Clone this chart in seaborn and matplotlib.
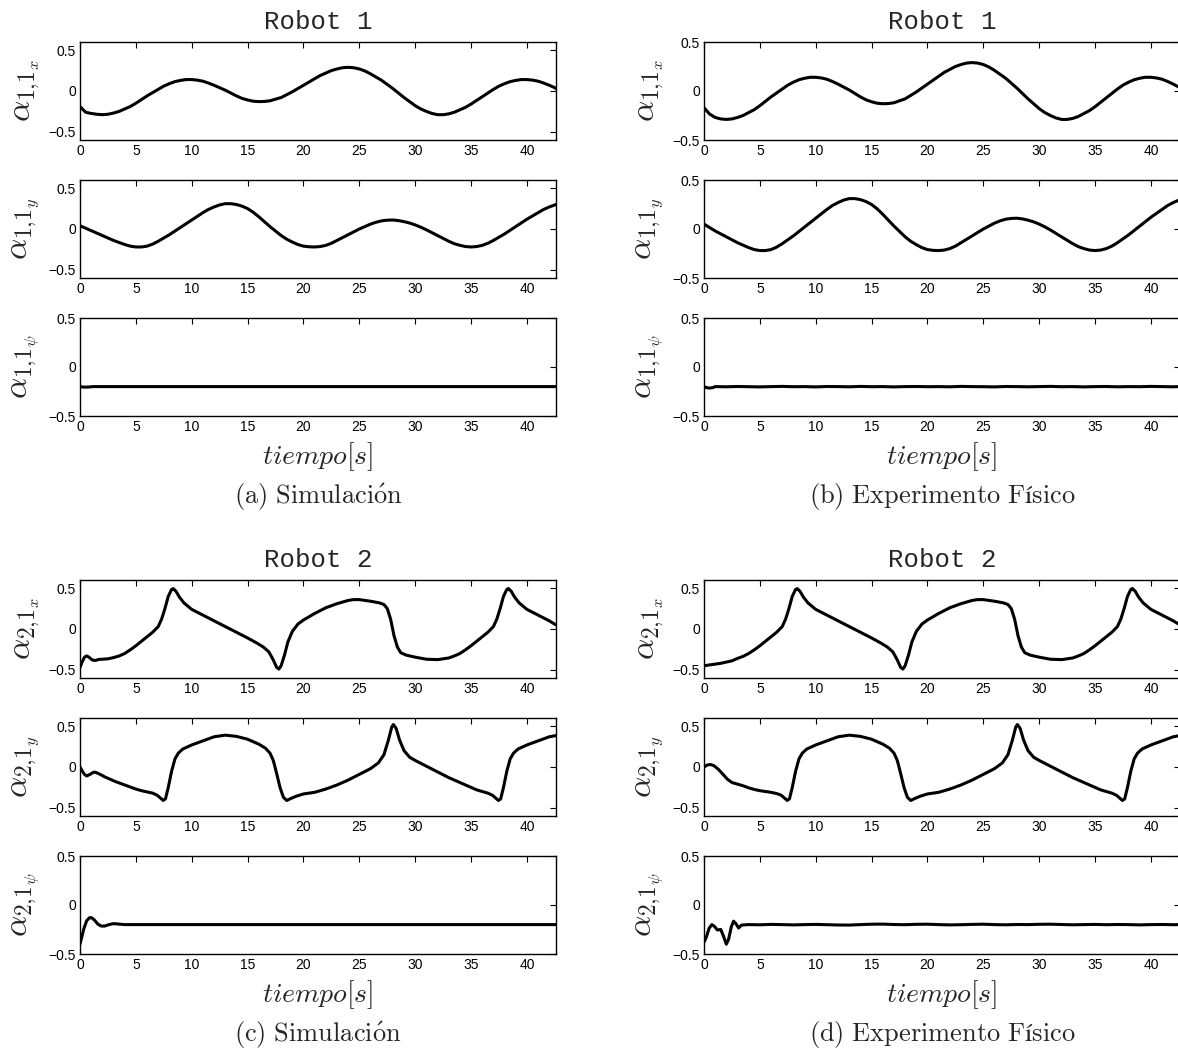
import matplotlib
matplotlib.use("Agg")
import matplotlib.pyplot as plt
import numpy as np
import pandas as pd
import seaborn as sns

# ---------------------------------------------------------------- data
# Robot 1 is sampled every half second up to 42.5 s, plus the final 42.6 s sample
T_R1 = np.append(np.arange(0, 42.5 + 1e-9, 0.5), 42.6)

# Robot 1, x component
R1X_SIM = [-0.19, -0.26, -0.275, -0.285, -0.29, -0.285, -0.27, -0.25, -0.22, -0.19, -0.15,
           -0.105, -0.06, -0.02, 0.02, 0.06, 0.09, 0.115, 0.13, 0.14, 0.14, 0.133, 0.12, 0.097,
           0.07, 0.04, 0.01, -0.025, -0.06, -0.09, -0.11, -0.125, -0.13, -0.128, -0.12, -0.10,
           -0.08, -0.045, -0.01, 0.03, 0.07, 0.11, 0.15, 0.19, 0.22, 0.25, 0.27, 0.285, 0.29,
           0.285, 0.27, 0.245, 0.21, 0.17, 0.13, 0.08, 0.03, -0.025, -0.08, -0.13, -0.18, -0.22,
           -0.25, -0.275, -0.29, -0.29, -0.28, -0.26, -0.23, -0.20, -0.16, -0.115, -0.07, -0.025,
           0.02, 0.06, 0.09, 0.115, 0.13, 0.14, 0.14, 0.133, 0.12, 0.097, 0.07, 0.04, 0.03]
R1X_EXP = [-0.17, -0.235, -0.27, -0.285, -0.29, -0.285, -0.27, -0.25, -0.22, -0.19, -0.15,
           -0.105, -0.06, -0.02, 0.02, 0.06, 0.09, 0.115, 0.13, 0.14, 0.14, 0.133, 0.12, 0.097,
           0.07, 0.04, 0.01, -0.025, -0.06, -0.09, -0.11, -0.125, -0.13, -0.128, -0.12, -0.10,
           -0.08, -0.045, -0.01, 0.03, 0.07, 0.11, 0.15, 0.19, 0.22, 0.25, 0.27, 0.285, 0.29,
           0.285, 0.27, 0.245, 0.21, 0.17, 0.13, 0.08, 0.03, -0.025, -0.08, -0.13, -0.18, -0.22,
           -0.25, -0.275, -0.29, -0.29, -0.28, -0.26, -0.23, -0.20, -0.16, -0.115, -0.07, -0.025,
           0.02, 0.06, 0.09, 0.115, 0.13, 0.14, 0.14, 0.133, 0.12, 0.097, 0.07, 0.04, 0.03]

# Robot 1, y component
R1Y_SIM = [0.04, 0.01, -0.02, -0.05, -0.08, -0.11, -0.14, -0.165, -0.19, -0.21, -0.22, -0.22,
           -0.21, -0.185, -0.15, -0.11, -0.07, -0.025, 0.02, 0.065, 0.11, 0.155, 0.20, 0.24,
           0.27, 0.295, 0.31, 0.31, 0.30, 0.28, 0.25, 0.205, 0.15, 0.09, 0.03, -0.025, -0.08,
           -0.125, -0.16, -0.19, -0.21, -0.218, -0.22, -0.215, -0.20, -0.175, -0.14, -0.105,
           -0.07, -0.035, 0.00, 0.03, 0.06, 0.083, 0.10, 0.108, 0.11, 0.103, 0.09, 0.073, 0.05,
           0.022, -0.01, -0.045, -0.08, -0.115, -0.15, -0.18, -0.20, -0.215, -0.22, -0.215,
           -0.20, -0.175, -0.14, -0.10, -0.06, -0.015, 0.03, 0.075, 0.12, 0.16, 0.20, 0.24, 0.27,
           0.295, 0.30]
R1Y_EXP = [0.05, 0.015, -0.02, -0.05, -0.08, -0.11, -0.14, -0.165, -0.19, -0.21, -0.22, -0.22,
           -0.21, -0.185, -0.15, -0.11, -0.07, -0.025, 0.02, 0.065, 0.11, 0.155, 0.20, 0.24,
           0.27, 0.295, 0.31, 0.31, 0.30, 0.28, 0.25, 0.205, 0.15, 0.09, 0.03, -0.025, -0.08,
           -0.125, -0.16, -0.19, -0.21, -0.218, -0.22, -0.215, -0.20, -0.175, -0.14, -0.105,
           -0.07, -0.035, 0.00, 0.03, 0.06, 0.083, 0.10, 0.108, 0.11, 0.103, 0.09, 0.073, 0.05,
           0.022, -0.01, -0.045, -0.08, -0.115, -0.15, -0.18, -0.20, -0.215, -0.22, -0.215,
           -0.20, -0.175, -0.14, -0.10, -0.06, -0.015, 0.03, 0.075, 0.12, 0.16, 0.20, 0.24, 0.27,
           0.295, 0.30]

# Robot 1, heading component
T_R1P_SIM = [0, 0.3, 0.7, 1.2, 5, 10, 15, 20, 25, 30, 35, 40, 42.6]
R1P_SIM = [-0.2, -0.205, -0.205, -0.2, -0.2, -0.2, -0.2, -0.2, -0.2, -0.2, -0.2, -0.2, -0.2]
T_R1P_EXP = [0, 0.2, 0.5, 0.8, 1, 2, 3, 4, 5, 6, 7, 8, 9, 10, 11, 12, 13, 14, 15, 16, 17, 18,
             19, 20, 21, 22, 23, 24, 25, 26, 27, 28, 29, 30, 31, 32, 33, 34, 35, 36, 37, 38, 39,
             40, 41, 42, 42.6]
R1P_EXP = [-0.20, -0.21, -0.215, -0.21, -0.20, -0.202, -0.199, -0.201, -0.203, -0.2, -0.198,
           -0.201, -0.2, -0.203, -0.199, -0.2, -0.202, -0.198, -0.201, -0.2, -0.203, -0.2,
           -0.199, -0.201, -0.2, -0.202, -0.198, -0.2, -0.201, -0.203, -0.199, -0.2, -0.202,
           -0.2, -0.198, -0.201, -0.2, -0.203, -0.2, -0.199, -0.202, -0.2, -0.201, -0.198, -0.2,
           -0.202, -0.2]

# Robot 2, x component
T_R2X_SIM = [0, 0.2, 0.4, 0.6, 0.8, 1.1, 1.4, 1.7, 2, 2.5, 3, 3.5, 4, 4.5, 5, 5.5, 6, 6.5, 7,
             7.3, 7.6, 7.9, 8.2, 8.35, 8.6, 8.9, 9.3, 10, 11, 12, 13, 14, 15, 15.8, 16.4, 16.9,
             17.3, 17.6, 17.8, 18.0, 18.3, 18.6, 19.0, 19.5, 20, 21, 22, 23, 24, 24.5, 25, 26,
             26.8, 27.2, 27.5, 27.8, 28.1, 28.4, 28.7, 29.2, 30, 31, 32, 33, 33.5, 34, 34.5, 35,
             35.5, 36, 36.5, 37, 37.3, 37.6, 37.9, 38.2, 38.35, 38.6, 38.9, 39.3, 40, 41, 42, 42.6]
R2X_SIM = [-0.47, -0.40, -0.345, -0.33, -0.345, -0.38, -0.385, -0.372, -0.37, -0.365, -0.35,
           -0.33, -0.30, -0.255, -0.205, -0.15, -0.095, -0.04, 0.03, 0.12, 0.25, 0.40, 0.485,
           0.495, 0.46, 0.39, 0.32, 0.24, 0.17, 0.10, 0.03, -0.04, -0.11, -0.17, -0.22, -0.28,
           -0.38, -0.47, -0.49, -0.45, -0.32, -0.16, -0.03, 0.06, 0.11, 0.19, 0.26, 0.31, 0.35,
           0.36, 0.36, 0.34, 0.32, 0.30, 0.25, 0.12, -0.08, -0.22, -0.29, -0.32, -0.345, -0.37,
           -0.375, -0.355, -0.33, -0.30, -0.255, -0.205, -0.15, -0.095, -0.04, 0.03, 0.12, 0.25,
           0.40, 0.485, 0.495, 0.46, 0.39, 0.32, 0.24, 0.17, 0.10, 0.05]
T_R2X_EXP = [0, 0.5, 1, 1.5, 2, 2.5, 3, 3.5, 4, 4.5, 5, 5.5, 6, 6.5, 7, 7.3, 7.6, 7.9, 8.2, 8.35,
             8.6, 8.9, 9.3, 10, 11, 12, 13, 14, 15, 15.8, 16.4, 16.9, 17.3, 17.6, 17.8, 18.0, 18.3,
             18.6, 19.0, 19.5, 20, 21, 22, 23, 24, 24.5, 25, 26, 26.8, 27.2, 27.5, 27.8, 28.1,
             28.4, 28.7, 29.2, 30, 31, 32, 33, 33.5, 34, 34.5, 35, 35.5, 36, 36.5, 37, 37.3, 37.6,
             37.9, 38.2, 38.35, 38.6, 38.9, 39.3, 40, 41, 42, 42.6]
R2X_EXP = [-0.45, -0.44, -0.43, -0.42, -0.405, -0.39, -0.36, -0.335, -0.30, -0.255, -0.205,
           -0.15, -0.095, -0.04, 0.03, 0.12, 0.25, 0.40, 0.485, 0.495, 0.46, 0.39, 0.32, 0.24,
           0.17, 0.10, 0.03, -0.04, -0.11, -0.17, -0.22, -0.28, -0.38, -0.47, -0.49, -0.45,
           -0.32, -0.16, -0.03, 0.06, 0.11, 0.19, 0.26, 0.31, 0.35, 0.36, 0.36, 0.34, 0.32, 0.30,
           0.25, 0.12, -0.08, -0.22, -0.29, -0.32, -0.345, -0.37, -0.375, -0.355, -0.33, -0.30,
           -0.255, -0.205, -0.15, -0.095, -0.04, 0.03, 0.12, 0.25, 0.40, 0.485, 0.495, 0.46,
           0.39, 0.32, 0.24, 0.17, 0.10, 0.05]

# Robot 2, y component
T_R2Y_SIM = [0, 0.2, 0.4, 0.6, 0.9, 1.2, 1.4, 1.8, 2.2, 2.7, 3.2, 3.8, 4.5, 5, 5.5, 6, 6.5, 6.9,
             7.2, 7.45, 7.65, 7.9, 8.2, 8.5, 8.8, 9.2, 10, 11, 12, 13, 14, 15, 16, 16.6, 17.0,
             17.3, 17.6, 17.9, 18.2, 18.5, 18.8, 19.3, 20, 21, 22, 23, 24, 25, 26, 26.7, 27.2,
             27.6, 27.9, 28.05, 28.3, 28.6, 29.0, 29.5, 30, 31, 32, 33, 34, 35, 35.5, 36, 36.5,
             36.9, 37.2, 37.45, 37.65, 37.9, 38.2, 38.5, 38.8, 39.2, 40, 41, 42, 42.6]
R2Y_SIM = [0.0, -0.05, -0.09, -0.11, -0.09, -0.065, -0.065, -0.09, -0.12, -0.15, -0.18, -0.21,
           -0.245, -0.27, -0.29, -0.305, -0.32, -0.345, -0.38, -0.41, -0.39, -0.25, -0.05, 0.10,
           0.17, 0.22, 0.27, 0.32, 0.37, 0.39, 0.375, 0.34, 0.28, 0.23, 0.17, 0.08, -0.08, -0.25,
           -0.37, -0.41, -0.39, -0.36, -0.33, -0.31, -0.27, -0.22, -0.16, -0.09, -0.02, 0.05,
           0.15, 0.33, 0.49, 0.52, 0.47, 0.33, 0.20, 0.12, 0.08, 0.01, -0.06, -0.13, -0.19,
           -0.25, -0.28, -0.30, -0.32, -0.345, -0.38, -0.41, -0.39, -0.25, -0.05, 0.10, 0.17,
           0.22, 0.27, 0.32, 0.37, 0.385]
T_R2Y_EXP = [0, 0.3, 0.6, 0.9, 1.3, 1.7, 2.1, 2.5, 3, 3.5, 4, 4.5, 5, 5.5, 6, 6.5, 6.9, 7.2,
             7.45, 7.65, 7.9, 8.2, 8.5, 8.8, 9.2, 10, 11, 12, 13, 14, 15, 16, 16.6, 17.0, 17.3,
             17.6, 17.9, 18.2, 18.5, 18.8, 19.3, 20, 21, 22, 23, 24, 25, 26, 26.7, 27.2, 27.6,
             27.9, 28.05, 28.3, 28.6, 29.0, 29.5, 30, 31, 32, 33, 34, 35, 35.5, 36, 36.5, 36.9,
             37.2, 37.45, 37.65, 37.9, 38.2, 38.5, 38.8, 39.2, 40, 41, 42, 42.6]
R2Y_EXP = [0.0, 0.025, 0.03, 0.015, -0.03, -0.09, -0.15, -0.19, -0.21, -0.23, -0.255, -0.275,
           -0.29, -0.30, -0.31, -0.325, -0.345, -0.38, -0.41, -0.39, -0.25, -0.05, 0.10, 0.17,
           0.22, 0.27, 0.32, 0.37, 0.39, 0.375, 0.34, 0.28, 0.23, 0.17, 0.08, -0.08, -0.25,
           -0.37, -0.41, -0.39, -0.36, -0.33, -0.31, -0.27, -0.22, -0.16, -0.09, -0.02, 0.05,
           0.15, 0.33, 0.49, 0.52, 0.47, 0.33, 0.20, 0.12, 0.08, 0.01, -0.06, -0.13, -0.19,
           -0.25, -0.28, -0.30, -0.32, -0.345, -0.38, -0.41, -0.39, -0.25, -0.05, 0.10, 0.17,
           0.22, 0.27, 0.32, 0.37, 0.385]

# Robot 2, heading component
T_R2P_SIM = [0, 0.15, 0.35, 0.6, 0.85, 1.05, 1.3, 1.6, 1.9, 2.2, 2.6, 3.0, 3.5, 4.0, 10, 20, 30,
             42.6]
R2P_SIM = [-0.40, -0.33, -0.24, -0.16, -0.13, -0.13, -0.155, -0.195, -0.215, -0.215, -0.20,
           -0.19, -0.195, -0.2, -0.2, -0.2, -0.2, -0.2]
T_R2P_EXP = [0, 0.2, 0.45, 0.7, 0.95, 1.2, 1.5, 1.75, 2.0, 2.2, 2.45, 2.65, 2.85, 3.1, 3.35, 4,
             5, 6, 7, 8, 9, 10, 11, 12, 13, 14, 15, 16, 17, 18, 19, 20, 21, 22, 23, 24, 25, 26,
             27, 28, 29, 30, 31, 32, 33, 34, 35, 36, 37, 38, 39, 40, 41, 42, 42.6]
R2P_EXP = [-0.38, -0.33, -0.24, -0.20, -0.22, -0.255, -0.25, -0.32, -0.40, -0.35, -0.22, -0.165,
           -0.19, -0.235, -0.205, -0.2, -0.202, -0.198, -0.2, -0.203, -0.2, -0.198, -0.201,
           -0.204, -0.205, -0.2, -0.196, -0.195, -0.199, -0.201, -0.197, -0.196, -0.2, -0.203,
           -0.201, -0.198, -0.196, -0.2, -0.202, -0.199, -0.2, -0.197, -0.196, -0.199, -0.202,
           -0.2, -0.198, -0.201, -0.199, -0.2, -0.203, -0.2, -0.199, -0.201, -0.2]

# ---------------------------------------------------------------- style
sns.set_theme(style="white")
plt.rcParams.update({
    "font.family": ["Liberation Sans", "DejaVu Sans"],
    "mathtext.fontset": "cm",
    "axes.edgecolor": "black",
    "axes.linewidth": 1.0,
    "xtick.color": "black",
    "ytick.color": "black",
    "xtick.labelsize": 10,
    "ytick.labelsize": 10,
})

W, H = 1178, 1051
fig = plt.figure(figsize=(W / 100, H / 100), dpi=100)

AX_W, AX_H = 476, 98
X_MAX = 42.6


def rect(left, top):
    return [left / W, 1 - (top + AX_H) / H, AX_W / W, AX_H / H]


def draw(ax, t, v, ylim, ylabel, last=False):
    df = pd.DataFrame({"t": t, "v": v})
    sns.lineplot(data=df, x="t", y="v", ax=ax, color="black", linewidth=2.2,
                 estimator=None, sort=False)
    ax.set_xlim(0, X_MAX)
    ax.set_ylim(*ylim)
    ax.set_xticks(np.arange(0, 41, 5))
    ax.set_yticks([-0.5, 0, 0.5])
    ax.set_yticklabels(["\u22120.5", "0", "0.5"])
    ax.tick_params(direction="in", top=True, right=True, length=4, width=0.8, pad=3)
    ax.set_ylabel(ylabel, fontsize=24, va="center", labelpad=0)
    ax.yaxis.set_label_coords(-0.113, 0.5)
    if last:
        ax.set_xlabel(r"$tiempo[s]$", fontsize=20, labelpad=4)
    else:
        ax.set_xlabel("")
    for s in ax.spines.values():
        s.set_visible(True)
        s.set_color("black")


panels = [
    # left px, top px of block, title, caption, robot number, series
    (80, 0, "Robot 1", r"$\mathrm{(a)\ Simulaci\acute{o}n}$", 1,
     [(T_R1, R1X_SIM, (-0.6, 0.6)), (T_R1, R1Y_SIM, (-0.6, 0.6)),
      (T_R1P_SIM, R1P_SIM, (-0.5, 0.5))]),
    (704, 0, "Robot 1", r"$\mathrm{(b)\ Experimento\ Físico}$", 1,
     [(T_R1, R1X_EXP, (-0.5, 0.5)), (T_R1, R1Y_EXP, (-0.5, 0.5)),
      (T_R1P_EXP, R1P_EXP, (-0.5, 0.5))]),
    (80, 538, "Robot 2", r"$\mathrm{(c)\ Simulaci\acute{o}n}$", 2,
     [(T_R2X_SIM, R2X_SIM, (-0.6, 0.6)), (T_R2Y_SIM, R2Y_SIM, (-0.6, 0.6)),
      (T_R2P_SIM, R2P_SIM, (-0.5, 0.5))]),
    (704, 538, "Robot 2", r"$\mathrm{(d)\ Experimento\ Físico}$", 2,
     [(T_R2X_EXP, R2X_EXP, (-0.6, 0.6)), (T_R2Y_EXP, R2Y_EXP, (-0.6, 0.6)),
      (T_R2P_EXP, R2P_EXP, (-0.5, 0.5))]),
]

comps = ["x", "y", r"\psi"]
for left, top0, title, caption, robot, series in panels:
    cx = (left + AX_W / 2) / W
    fig.text(cx, 1 - (top0 + 22) / H, title, ha="center", va="center",
             family="Liberation Mono", fontsize=18.5)
    for i, (t, v, ylim) in enumerate(series):
        ax = fig.add_axes(rect(left, top0 + 42 + 138 * i))
        draw(ax, t, v, ylim, r"$\alpha_{%d{,}1_{%s}}$" % (robot, comps[i]), last=(i == 2))
    fig.text(cx, 1 - (top0 + 497) / H, caption, ha="center", va="center", fontsize=19)

fig.savefig("out.png", dpi=100)
